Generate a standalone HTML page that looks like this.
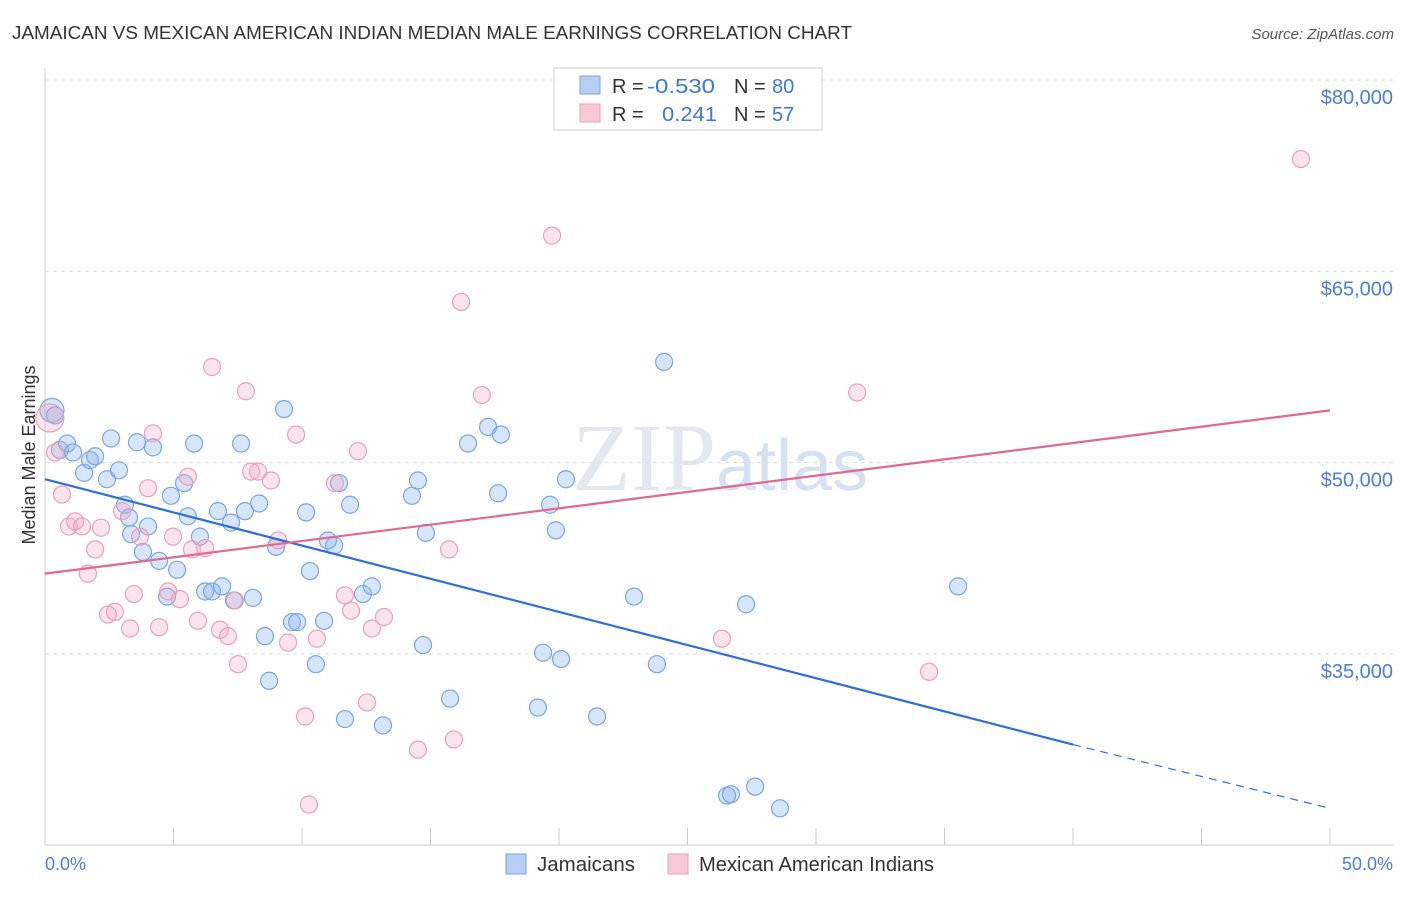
<!DOCTYPE html>
<html><head><meta charset="utf-8"><style>
body{margin:0;background:#fff;font-family:"Liberation Sans",sans-serif;}
</style></head><body>
<svg id="chart" width="1406" height="892" viewBox="0 0 1406 892" xmlns="http://www.w3.org/2000/svg">
<text x="12" y="39" font-size="18" fill="#333" textLength="840" lengthAdjust="spacingAndGlyphs">JAMAICAN VS MEXICAN AMERICAN INDIAN MEDIAN MALE EARNINGS CORRELATION CHART</text>
<text x="1394" y="39" font-size="15" fill="#555" font-style="italic" text-anchor="end">Source: ZipAtlas.com</text>
<text x="720" y="490" font-size="96" fill="#e4e8ee" text-anchor="middle" font-family="Liberation Serif,serif">ZIP<tspan fill="#d5e2f3" font-family="Liberation Sans,sans-serif" font-size="72">atlas</tspan></text>
<g id="grid"></g>
<line x1="45" y1="68" x2="45" y2="845" stroke="#ccc"/>
<line x1="45" y1="845" x2="1393" y2="845" stroke="#ccc"/>
<text x="35" y="455" font-size="18" fill="#333" text-anchor="middle" transform="rotate(-90 35 455)">Median Male Earnings</text>
<text x="45" y="870" font-size="18" fill="#4a7fd4">0.0%</text>
<text x="1393" y="870" font-size="18" fill="#4a7fd4" text-anchor="end">50.0%</text>
<g id="marks"></g>
<g>
<rect x="554" y="68" width="268" height="62" fill="#fff" stroke="#ccc"/>
<rect x="580" y="76" width="20" height="18" fill="#b7cff2" stroke="#7aa6e3"/>
<rect x="580" y="104" width="20" height="18" fill="#f8c8d7" stroke="#eba0b9"/>
<text x="612" y="93" font-size="20" fill="#333">R = <tspan x="647" fill="#3b78d8" textLength="68" lengthAdjust="spacingAndGlyphs">-0.530</tspan><tspan x="734">N = </tspan><tspan x="772" fill="#3b78d8">80</tspan></text>
<text x="612" y="121" font-size="20" fill="#333">R = <tspan x="662" fill="#3b78d8" textLength="55" lengthAdjust="spacingAndGlyphs">0.241</tspan><tspan x="734">N = </tspan><tspan x="772" fill="#3b78d8">57</tspan></text>
</g>
<g>
<rect x="506" y="854" width="20" height="20" fill="#b7cff2" stroke="#7aa6e3"/>
<text x="537" y="871" font-size="20" fill="#333" textLength="98" lengthAdjust="spacingAndGlyphs">Jamaicans</text>
<rect x="668" y="854" width="20" height="20" fill="#f8c8d7" stroke="#eba0b9"/>
<text x="699" y="871" font-size="20" fill="#333" textLength="235" lengthAdjust="spacingAndGlyphs">Mexican American Indians</text>
</g>
</svg>
<script>
const yTicks=[35000,50000,65000,80000];
const yTickLabels=["$35,000","$50,000","$65,000","$80,000"];
const xTicks=[0,5,10,15,20,25,30,35,40,45,50];
const blueX=[0.27,0.39,0.58,0.86,1.09,1.52,1.75,1.95,2.41,2.57,2.88,3.11,3.27,3.35,3.58,3.81,4.01,4.20,4.44,4.75,4.90,5.14,5.41,5.56,5.80,6.03,6.23,6.50,6.73,6.89,7.24,7.35,7.63,7.78,8.09,8.33,8.56,8.72,8.99,9.30,9.61,9.81,10.16,10.31,10.54,10.86,11.01,11.25,11.44,11.67,11.87,12.37,12.72,13.15,14.28,14.51,14.71,14.82,15.76,16.46,17.24,17.63,17.74,19.18,19.38,19.65,19.88,20.08,20.27,21.48,22.92,23.81,24.09,26.54,26.69,27.28,27.63,28.60,35.53];
const blueY=[54.1,53.7,51.0,51.5,50.8,49.2,50.2,50.5,48.7,51.9,49.4,46.7,45.7,44.4,51.6,43.0,45.0,51.2,42.3,39.5,47.4,41.6,48.4,45.8,51.5,44.2,39.9,39.9,46.2,40.3,45.3,39.2,51.5,46.2,39.4,46.8,36.4,32.9,43.4,54.2,37.5,37.5,46.1,41.5,34.2,37.6,43.9,43.5,48.4,29.9,46.7,39.7,40.3,29.4,47.4,48.6,35.7,44.5,31.5,51.5,52.8,47.6,52.2,30.8,35.1,46.7,44.7,34.6,48.7,30.1,39.5,34.2,57.9,23.9,24.0,38.9,24.6,22.9,40.3];
const pinkX=[0.19,0.39,0.66,0.93,1.17,1.44,1.67,1.95,2.18,2.45,2.72,3.00,3.31,3.46,3.70,4.01,4.20,4.44,4.79,4.98,5.25,5.56,5.72,5.95,6.23,6.50,6.81,7.12,7.39,7.51,7.82,8.02,8.29,8.79,9.07,9.46,9.77,10.12,10.27,10.58,11.28,11.67,11.91,12.18,12.53,12.72,13.19,14.51,15.72,15.91,16.19,17.00,19.73,26.34,31.60,34.40,48.87];
const pinkY=[53.5,50.8,47.5,45.0,45.4,45.0,41.3,43.2,44.9,38.1,38.3,46.2,37.0,39.7,44.2,48.0,52.3,37.1,39.9,44.2,39.3,48.9,43.2,37.6,43.3,57.5,36.9,36.4,39.2,34.2,55.6,49.3,49.3,48.6,43.9,35.9,52.2,30.1,23.2,36.2,48.4,39.6,38.4,50.9,31.2,37.0,37.9,27.5,43.2,28.3,62.6,55.3,67.8,36.2,55.5,33.6,73.8];
const blueTrendX=[0,40,50], blueTrendY=[48.7,27.9,22.9];
const pinkTrendX=[0,50], pinkTrendY=[41.3,54.1];

const NS="http://www.w3.org/2000/svg";
const xs=v=>45+v*25.7;
const ys=v=>80+(80000-v)*191.33/15000;
const ysK=v=>ys(v*1000);
function mk(tag,attrs,parent){const e=document.createElementNS(NS,tag);for(const k in attrs)e.setAttribute(k,attrs[k]);parent.appendChild(e);return e;}
const grid=document.getElementById('grid'),marks=document.getElementById('marks');
yTicks.forEach((t,i)=>{
 const l=mk('line',{x1:45,x2:1393,y1:ys(t),y2:ys(t),stroke:'#ddd','stroke-dasharray':'4,4'},grid);
 
 
 const tx=mk('text',{x:1393,y:ys(t)+24,'font-size':20,fill:'#4a7fd4','text-anchor':'end'},grid);
 tx.textContent=yTickLabels[i];
 
 
});
xTicks.forEach(t=>{
 const l=mk('line',{x1:xs(t),x2:xs(t),y1:828,y2:845,stroke:'#ccc'},grid);
 
 
});
blueX.forEach((x,i)=>{
 const c=mk('circle',{cx:xs(x),cy:ysK(blueY[i]),r:i==0?12:8.5,fill:'rgba(140,180,235,0.35)',stroke:'#7aa6e3','stroke-width':1.2},marks);
 
 
});
pinkX.forEach((x,i)=>{
 const c=mk('circle',{cx:xs(x),cy:ysK(pinkY[i]),r:i==0?14:8.5,fill:'rgba(242,165,195,0.3)',stroke:'#eba0b9','stroke-width':1.2},marks);
 
 
});
const b1=mk('line',{x1:xs(blueTrendX[0]),y1:ysK(blueTrendY[0]),x2:xs(blueTrendX[1]),y2:ysK(blueTrendY[1]),stroke:'#2f6fd8','stroke-width':2.2},marks);


const b2=mk('line',{x1:xs(blueTrendX[1]),y1:ysK(blueTrendY[1]),x2:xs(blueTrendX[2]),y2:ysK(blueTrendY[2]),stroke:'#2f6fd8','stroke-width':1.2,'stroke-dasharray':'8,6'},marks);


const p1=mk('line',{x1:xs(pinkTrendX[0]),y1:ysK(pinkTrendY[0]),x2:xs(pinkTrendX[1]),y2:ysK(pinkTrendY[1]),stroke:'#e4678f','stroke-width':2.2},marks);


</script>
</body></html>
